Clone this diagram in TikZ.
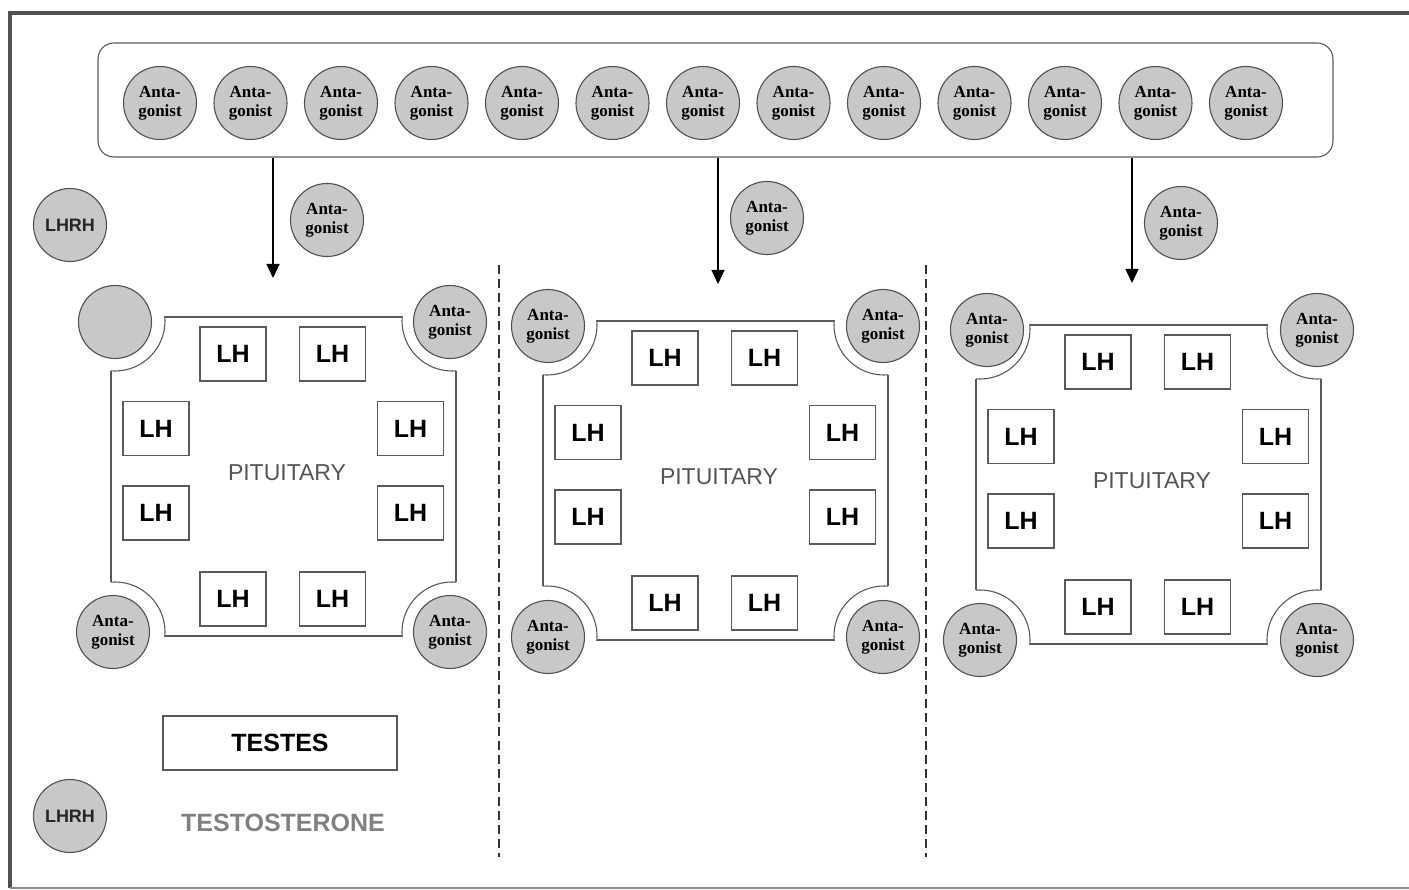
\documentclass[tikz,border=0pt]{standalone}
\usepackage{fontspec}
\newfontfamily\arialf{Liberation Sans}
\newfontfamily\timesf{Liberation Serif}
\usetikzlibrary{arrows.meta}
\definecolor{cfill}{RGB}{200,200,200}
\definecolor{cline}{RGB}{80,80,80}
\definecolor{bline}{RGB}{90,90,90}
\definecolor{pittext}{RGB}{85,85,85}
\definecolor{testo}{RGB}{128,128,128}
\definecolor{framec}{RGB}{80,80,80}
\tikzset{
 anta/.style={circle, draw=cline, fill=cfill, line width=1.1pt, minimum size=73pt, inner sep=0pt, align=center, font=\timesf\bfseries\fontsize{17}{19}\selectfont},
 plaincirc/.style={circle, draw=cline, fill=cfill, line width=1.1pt, minimum size=73pt, inner sep=0pt},
 lhrh/.style={plaincirc, font=\arialf\bfseries\fontsize{18}{20}\selectfont, text=black!85},
 lhbox/.style={rectangle, draw=bline, line width=1.1pt, fill=white, minimum width=66pt, minimum height=54pt, inner sep=0pt, font=\arialf\bfseries\fontsize{25}{28}\selectfont},
 pitline/.style={draw=bline, line width=1.1pt},
 pittxt/.style={font=\arialf\fontsize{23}{26}\selectfont, text=pittext, inner sep=0pt},
 arr/.style={line width=1.2pt, -{Triangle[length=14pt,width=13pt]}},
 divider/.style={draw=black!80, line width=1.1pt, dash pattern=on 9pt off 5pt},
 bigtxt/.style={font=\arialf\bfseries\fontsize{25}{28}\selectfont, inner sep=0pt},
}
\newcommand\pitpanel[3]{%
 \begin{scope}[shift={(#1,#2)}]
  \draw[pitline, fill=white] (0,0) rectangle (345,319);
  \begin{scope}
   \clip (-2,-2) rectangle (347,321);
   \foreach \cx/\cy in {4/4,341/4,4/315,341/315}
     \fill[white] (\cx,\cy) circle[radius=50];
  \end{scope}
  \begin{scope}
   \clip (0,0) rectangle (345,319);
   \foreach \cx/\cy in {4/4,341/4,4/315,341/315}
     \draw[pitline] (\cx,\cy) circle[radius=50];
  \end{scope}
  \node[pittxt] (#3-pit) at (176,156) {PITUITARY};
  \node[lhbox] (#3-t1) at (122,37) {LH};
  \node[lhbox] (#3-t2) at (221.5,37) {LH};
  \node[lhbox] (#3-l1) at (45,111.5) {LH};
  \node[lhbox] (#3-l2) at (45,196) {LH};
  \node[lhbox] (#3-r1) at (299.5,111.5) {LH};
  \node[lhbox] (#3-r2) at (299.5,196) {LH};
  \node[lhbox] (#3-b1) at (122,282) {LH};
  \node[lhbox] (#3-b2) at (221.5,282) {LH};
 \end{scope}}
\begin{document}
\begin{tikzpicture}[x=1pt,y=-1pt]
\useasboundingbox (0,0) rectangle (1409,890);
% frame
\draw[framec, line width=4pt] (10,888) -- (10,13) -- (1409,13);
\draw[black!45, line width=1.2pt] (10,888) -- (1409,888);
% antagonist pool
\node[draw=bline, line width=1.1pt, rounded corners=16pt, minimum width=1235pt, minimum height=114pt, inner sep=0pt] (pool) at (715.5,100) {};
\foreach \i in {1,...,13}
  \node[anta] (a\i) at ({160+90.5*(\i-1)},103) {Anta-\\gonist};
% arrows
\coordinate (tip1) at (273,278);
\coordinate (tip2) at (718,284);
\coordinate (tip3) at (1132,283);
\draw[arr] (pool.south -| tip1) -- (tip1);
\draw[arr] (pool.south -| tip2) -- (tip2);
\draw[arr] (pool.south -| tip3) -- (tip3);
\node[anta] (f1) at (327,220) {Anta-\\gonist};
\node[anta] (f2) at (767,218) {Anta-\\gonist};
\node[anta] (f3) at (1181,223) {Anta-\\gonist};
\node[lhrh] (lhrh1) at (70,225) {LHRH};
% dividers
\coordinate (d1t) at (499,265);
\coordinate (d1b) at (499,857);
\coordinate (d2t) at (926,265);
\coordinate (d2b) at (926,857);
\draw[divider] (d1t) -- (d1b);
\draw[divider] (d2t) -- (d2b);
% panels
\pitpanel{111}{317}{p1}
\pitpanel{543}{321}{p2}
\pitpanel{976}{325}{p3}
% corner circles
\node[plaincirc] (c1tl) at (115,322) {};
\node[anta] (c1tr) at (450,322) {Anta-\\gonist};
\node[anta] (c1bl) at (113,632) {Anta-\\gonist};
\node[anta] (c1br) at (450,632) {Anta-\\gonist};
\node[anta] (c2tl) at (548,326) {Anta-\\gonist};
\node[anta] (c2tr) at (883,326) {Anta-\\gonist};
\node[anta] (c2bl) at (548,637) {Anta-\\gonist};
\node[anta] (c2br) at (883,637) {Anta-\\gonist};
\node[anta] (c3tl) at (987,330) {Anta-\\gonist};
\node[anta] (c3tr) at (1317,330) {Anta-\\gonist};
\node[anta] (c3bl) at (980,640) {Anta-\\gonist};
\node[anta] (c3br) at (1317,640) {Anta-\\gonist};
% bottom left
\node[draw=bline, line width=1.1pt, minimum width=234pt, minimum height=54pt, bigtxt] (testes) at (280,743) {TESTES};
\node[bigtxt, text=testo] (testo) at (283,823) {TESTOSTERONE};
\node[lhrh] (lhrh2) at (70,816) {LHRH};
\end{tikzpicture}
\end{document}
